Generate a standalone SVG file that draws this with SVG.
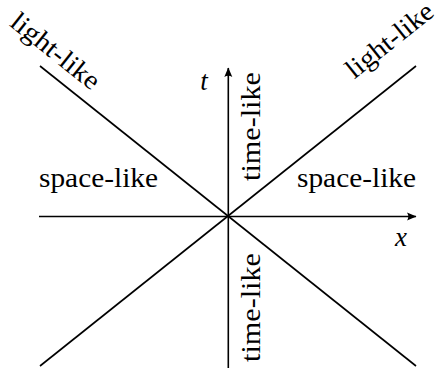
<svg xmlns="http://www.w3.org/2000/svg" width="441" height="371" viewBox="0 0 441 371">
<style>
.ln{stroke:#000;stroke-width:1.6;fill:none;stroke-linecap:butt}
.lbl{font-family:'Liberation Serif','DejaVu Serif','Times New Roman',Times,serif;font-size:27px;fill:#000}
.it{font-style:italic}
</style>
<defs>
<marker id="arr" viewBox="-10 -5 11 10" refX="0" refY="0" markerWidth="11" markerHeight="10" markerUnits="userSpaceOnUse" orient="auto">
<path d="M0.5,0 L-9,-4 Q-6.5,0 -9,4 Z" fill="#000"/>
</marker>
</defs>
<rect width="441" height="371" fill="#fff"/>
<g id="connectors">
<line class="ln" x1="39" y1="216.5" x2="416" y2="216.5" marker-end="url(#arr)"/>
<line class="ln" x1="228.3" y1="368" x2="228.3" y2="68" marker-end="url(#arr)"/>
<line class="ln" x1="40" y1="66" x2="416" y2="366"/>
<line class="ln" x1="416" y1="66" x2="40" y2="366"/>
</g>
<g id="label-t"><text class="lbl it" x="204" y="90" text-anchor="middle">t</text></g>
<g id="label-x"><text class="lbl it" x="401" y="246" text-anchor="middle">x</text></g>
<g id="space-like-left"><text class="lbl" x="39" y="187" textLength="119" lengthAdjust="spacingAndGlyphs">space-like</text></g>
<g id="space-like-right"><text class="lbl" x="297" y="187" textLength="119" lengthAdjust="spacingAndGlyphs">space-like</text></g>
<g id="time-like-upper"><text class="lbl" transform="translate(260,181) rotate(-90)" x="0" y="0" textLength="109" lengthAdjust="spacingAndGlyphs">time-like</text></g>
<g id="time-like-lower"><text class="lbl" transform="translate(260,362) rotate(-90)" x="0" y="0" textLength="109" lengthAdjust="spacingAndGlyphs">time-like</text></g>
<g id="light-like-left"><text class="lbl" transform="translate(50,58) rotate(38.6)" x="0" y="0" text-anchor="middle" textLength="106" lengthAdjust="spacingAndGlyphs">light-like</text></g>
<g id="light-like-right"><text class="lbl" transform="translate(395,47) rotate(-38.6)" x="0" y="0" text-anchor="middle" textLength="104" lengthAdjust="spacingAndGlyphs">light-like</text></g>
</svg>
